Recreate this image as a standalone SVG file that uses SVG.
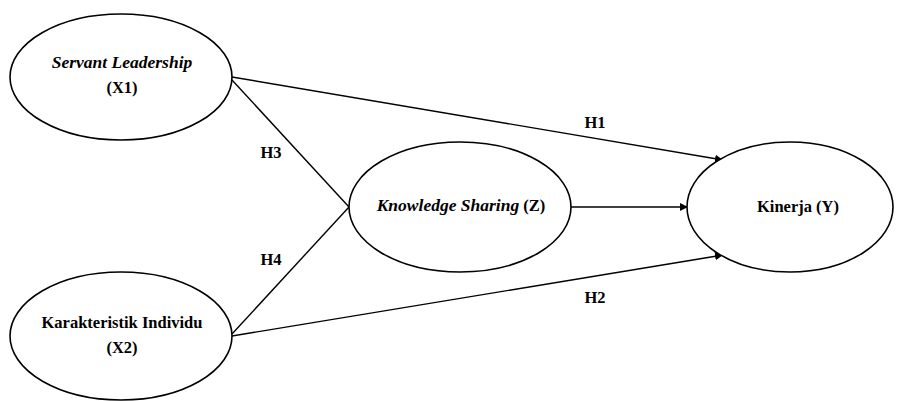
<svg xmlns="http://www.w3.org/2000/svg" width="897" height="401" viewBox="0 0 897 401">
<style>
.node{fill:#fff;stroke:#000;stroke-width:1.6}
.t{font-family:'Liberation Serif','Times New Roman','DejaVu Serif',serif;font-size:16.5px;font-weight:bold;fill:#000;text-anchor:middle}
.i{font-style:italic;font-size:17.5px}
.e{fill:none;stroke:#000;stroke-width:1.4}
.lbl{font-family:'Liberation Serif','Times New Roman','DejaVu Serif',serif;font-size:16.5px;font-weight:bold;fill:#000;text-anchor:middle}
</style>
<defs>
<marker id="ah" viewBox="0 0 10 10" refX="10" refY="5" markerWidth="8" markerHeight="8" markerUnits="userSpaceOnUse" orient="auto">
<path d="M0,0 L10,5 L0,10 Z" fill="#000"/>
</marker>
</defs>
<g id="connectors">
<line class="e" x1="232" y1="77" x2="723" y2="160" marker-end="url(#ah)"/>
<line class="e" x1="232" y1="80" x2="349" y2="207"/>
<line class="e" x1="232" y1="334" x2="349" y2="207"/>
<line class="e" x1="232" y1="336" x2="723" y2="255" marker-end="url(#ah)"/>
<line class="e" x1="570" y1="207" x2="688" y2="207" marker-end="url(#ah)"/>
<text class="lbl" x="271" y="158">H3</text>
<text class="lbl" x="271" y="265">H4</text>
<text class="lbl" x="595" y="128">H1</text>
<text class="lbl" x="595" y="303">H2</text>
</g>
<g id="x1">
<ellipse class="node" cx="121" cy="77" rx="111" ry="63"/>
<text class="t" x="122" y="68"><tspan class="i">Servant Leadership</tspan></text>
<text class="t" x="122" y="93">(X1)</text>
</g>
<g id="x2">
<ellipse class="node" cx="121" cy="336" rx="111" ry="64"/>
<text class="t" x="122" y="328">Karakteristik Individu</text>
<text class="t" x="122" y="353">(X2)</text>
</g>
<g id="z">
<ellipse class="node" cx="460" cy="207" rx="111" ry="65"/>
<text class="t" x="461" y="211"><tspan class="i">Knowledge Sharing</tspan> (Z)</text>
</g>
<g id="y">
<ellipse class="node" cx="790" cy="207" rx="103" ry="65"/>
<text class="t" x="798" y="212">Kinerja (Y)</text>
</g>
</svg>
